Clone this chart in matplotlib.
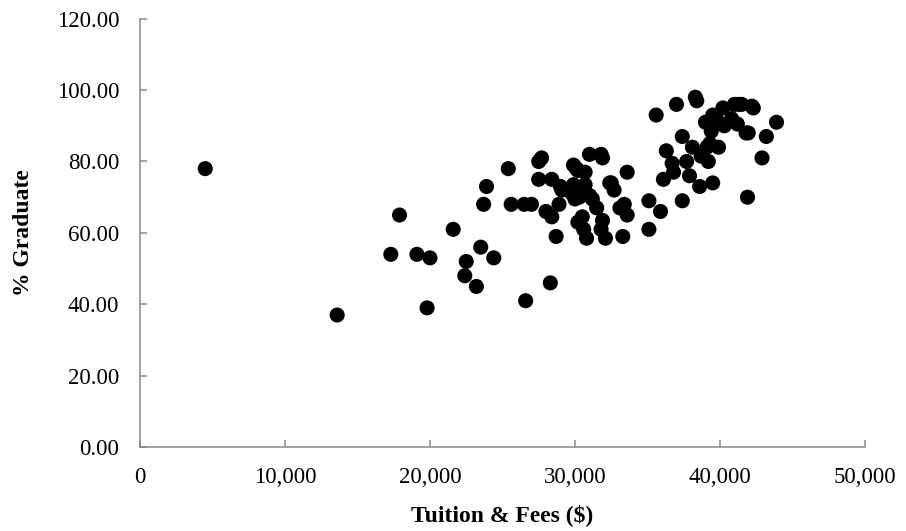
import numpy as np
import matplotlib.pyplot as plt
from matplotlib.ticker import FuncFormatter

# Tuition & fees ($) and graduation rate (%)
tuition = [
    4500, 13600, 17300, 17900, 19100, 19800, 20000, 21600, 22400, 22500,
    23200, 23500, 23700, 23900, 24400, 25400, 25600, 26500, 26600, 27000,
    28300,
    27500, 27700, 27500, 28400, 28000, 28400, 28700, 28900, 29000, 29100,
    29900, 30100, 30200, 30700, 29900, 30700, 29800, 30300, 30000, 31000,
    31200, 31500, 31000, 31800, 31900, 30500, 30200, 30600, 30800, 31900,
    31800, 32100, 32400, 32500, 32700, 33100, 33400, 33600, 33300, 33600,
    35100, 35100, 35600, 35900, 36100, 36300, 36700, 36800, 37000, 37400,
    37400, 37700, 37900, 38100, 38300, 38400, 38600, 38700, 39000, 39100,
    39200, 39300, 39400, 39500, 39500, 39800, 39900, 40200, 40300, 40800,
    41000, 41200, 41300, 41500, 41800, 41900, 41950, 42200, 42300, 42900,
    43200, 43900,
]
grad_rate = [
    78, 37, 54, 65, 54, 39, 53, 61, 48, 52,
    45, 56, 68, 73, 53, 78, 68, 68, 41, 68,
    46,
    80, 81, 75, 75, 66, 64.5, 59, 68, 73, 72,
    79, 78, 77.5, 77, 73.5, 73.5, 71, 70, 69.5, 70.5,
    69.5, 67, 82, 82, 81, 64.5, 63, 61, 58.5, 63.5,
    61, 58.5, 74, 74, 72, 67, 68, 65, 59, 77,
    61, 69, 93, 66, 75, 83, 79.5, 77, 96, 87,
    69, 80, 76, 84, 98, 97, 73, 81.5, 91, 84,
    80, 85, 88.5, 93, 74, 91.5, 84, 95, 90, 92,
    96, 90.5, 96, 96, 88, 70, 88, 95.5, 95, 81,
    87, 91,
]

x_ticks = [0, 10000, 20000, 30000, 40000, 50000]
y_ticks = [0, 20, 40, 60, 80, 100, 120]

plt.rcParams['font.family'] = ['Liberation Serif', 'DejaVu Serif']

fig = plt.figure(figsize=(9.06, 5.31), dpi=100)
ax = fig.add_axes([0.1545, 0.158, 0.8002, 0.8068])

ax.scatter(tuition, grad_rate, s=118, color='black', edgecolors='none', zorder=3)

ax.set_xlim(0, 50000)
ax.set_ylim(0, 120)
ax.set_xticks(x_ticks)
ax.set_yticks(y_ticks)
ax.xaxis.set_major_formatter(FuncFormatter(lambda v, p: f'{int(v):,}'))
ax.yaxis.set_major_formatter(FuncFormatter(lambda v, p: f'{v:.2f}'))

for side in ['top', 'right']:
    ax.spines[side].set_visible(False)
for side in ['left', 'bottom']:
    ax.spines[side].set_color('#898989')
    ax.spines[side].set_linewidth(1.1)

ax.tick_params(axis='both', direction='in', length=5, width=1.1,
               color='#898989', labelsize=16.5, labelcolor='black')
ax.tick_params(axis='y', pad=15)
ax.tick_params(axis='x', pad=14)

ax.set_xlabel('Tuition & Fees ($)', fontsize=17, fontweight='bold', labelpad=12)
ax.set_ylabel('% Graduate', fontsize=17, fontweight='bold', labelpad=16)

fig.savefig('out.png', dpi=100)
